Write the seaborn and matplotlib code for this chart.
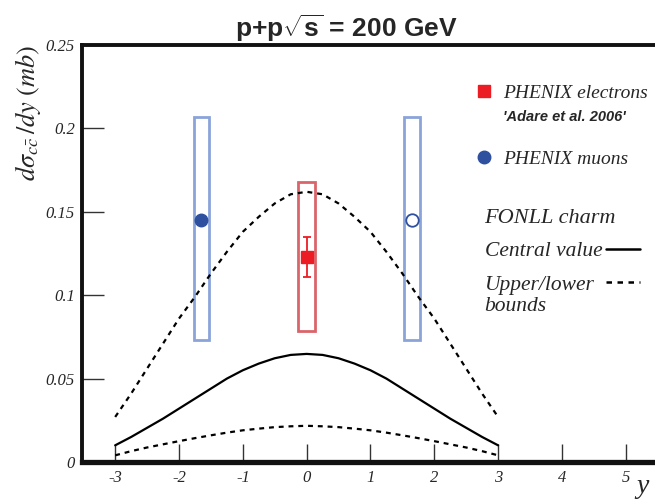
import matplotlib
matplotlib.use('Agg')
import matplotlib.pyplot as plt
from matplotlib.lines import Line2D
import pandas as pd
import seaborn as sns

# FONLL charm curves
rapidity = [-3.0, -2.75, -2.5, -2.25, -2.0, -1.75, -1.5, -1.25, -1.0, -0.75, -0.5, -0.25, 0.0,
            0.25, 0.5, 0.75, 1.0, 1.25, 1.5, 1.75, 2.0, 2.25, 2.5, 2.75, 3.0]
central = [0.010, 0.015, 0.0205, 0.026, 0.032, 0.038, 0.044, 0.050, 0.055, 0.059, 0.0622, 0.0642, 0.0648,
           0.0642, 0.0622, 0.059, 0.055, 0.050, 0.044, 0.038, 0.032, 0.026, 0.0205, 0.015, 0.010]
upper = [0.027, 0.041, 0.056, 0.071, 0.086, 0.099, 0.113, 0.126, 0.138, 0.147, 0.155, 0.1605, 0.162,
         0.1605, 0.155, 0.147, 0.138, 0.126, 0.113, 0.099, 0.086, 0.071, 0.056, 0.041, 0.027]
lower = [0.0040, 0.0065, 0.0087, 0.0106, 0.0125, 0.0143, 0.016, 0.0176, 0.019, 0.020, 0.0209, 0.0214, 0.0217,
         0.0214, 0.0209, 0.020, 0.019, 0.0176, 0.016, 0.0143, 0.0125, 0.0106, 0.0087, 0.0065, 0.0040]

# PHENIX data points
ele_y = [0.0]
ele_val = [0.123]
ele_stat = [0.012]
ele_sys_lo = [0.0785]
ele_sys_hi = [0.168]

muon_y = [-1.65, 1.65]
muon_val = [0.145, 0.145]
muon_sys_lo = [0.073, 0.073]
muon_sys_hi = [0.207, 0.207]

x_ticks = [-3, -2, -1, 0, 1, 2, 3, 4, 5]
y_ticks = [0, 0.05, 0.1, 0.15, 0.2, 0.25]
y_tick_labels = ['0', '0.05', '0.1', '0.15', '0.2', '0.25']

sns.set_style('ticks')
plt.rcParams['font.family'] = ['Liberation Serif', 'DejaVu Serif']
plt.rcParams['mathtext.fontset'] = 'custom'
plt.rcParams['mathtext.rm'] = 'Liberation Sans:bold'
plt.rcParams['mathtext.bf'] = 'Liberation Sans:bold'
plt.rcParams['mathtext.it'] = 'Liberation Sans:bold'

red = '#ec1c24'
red_box = '#d9656b'
blue = '#2f4f9f'
blue_box = '#8aa4da'
dash = (0, (2.2, 2.2))

df = pd.DataFrame({'y': rapidity, 'central': central, 'upper': upper, 'lower': lower})

fig = plt.figure(figsize=(6.55, 5.04), dpi=100)
ax = fig.add_axes([82 / 655, 42 / 504, 575 / 655, 417 / 504])

# systematic boxes
ax.bar(ele_y, [h - l for h, l in zip(ele_sys_hi, ele_sys_lo)], bottom=ele_sys_lo, width=0.26,
       fill=False, edgecolor=red_box, linewidth=2, zorder=2)
ax.bar(muon_y, [h - l for h, l in zip(muon_sys_hi, muon_sys_lo)], bottom=muon_sys_lo, width=0.24,
       fill=False, edgecolor=blue_box, linewidth=2, zorder=2)

# FONLL curves
sns.lineplot(data=df, x='y', y='upper', color='black', linestyle=dash, linewidth=1.6, ax=ax, zorder=3)
sns.lineplot(data=df, x='y', y='central', color='black', linewidth=1.6, ax=ax, zorder=3)
sns.lineplot(data=df, x='y', y='lower', color='black', linestyle=dash, linewidth=1.6, ax=ax, zorder=3)

# data points
ax.errorbar(ele_y, ele_val, yerr=ele_stat, fmt='s', color=red, markersize=8.5, capsize=3,
            elinewidth=1.3, capthick=1.3, zorder=4)
ax.plot(muon_y[:1], muon_val[:1], 'o', color=blue, markersize=9, zorder=4)
ax.plot(muon_y[1:], muon_val[1:], 'o', markerfacecolor='white', markeredgecolor=blue,
        markeredgewidth=1.3, markersize=9, zorder=4)

ax.set_xlim(-3.52, 5.49)
ax.set_ylim(0, 0.25)
ax.set_xticks(x_ticks)
ax.set_xticklabels([str(t) for t in x_ticks], fontstyle='italic', fontsize=12)
ax.set_yticks(y_ticks)
ax.set_yticklabels(y_tick_labels, fontstyle='italic', fontsize=12)
ax.tick_params(axis='y', direction='in', length=16, width=1, color='#333333', pad=5)
ax.tick_params(axis='x', direction='in', length=13, width=1, color='#333333', pad=6)

for side in ['left', 'top']:
    ax.spines[side].set_linewidth(2.8)
ax.spines['bottom'].set_linewidth(3.8)
ax.spines['right'].set_visible(False)
for s in ax.spines.values():
    s.set_color('#111111')

ax.set_xlabel('y', fontstyle='italic', fontsize=20)
ax.xaxis.set_label_coords(0.974, -0.028)
ax.set_ylabel(r'$d\sigma_{c\bar{c}}\,/dy\ (mb)$', fontsize=19, math_fontfamily='stix')
ax.yaxis.set_label_coords(-0.067, 0.837)

ax.set_title(r'p+p$\sqrt{s}$ = 200 GeV', fontfamily='Liberation Sans', fontweight='bold',
             fontsize=19, math_fontfamily='custom', x=0.459, pad=6)

# PHENIX legend
h_ele = Line2D([], [], marker='s', linestyle='none', color=red, markersize=8.5)
h_mu = Line2D([], [], marker='o', linestyle='none', color=blue, markersize=9)
leg1 = ax.legend([h_ele, h_mu], ['PHENIX electrons', 'PHENIX muons'], loc='upper left',
                 bbox_to_anchor=(0.688, 0.906), frameon=False, borderpad=0, borderaxespad=0,
                 handlelength=0.7, handletextpad=0.6, labelspacing=2.5,
                 prop={'style': 'italic', 'size': 14})
ax.add_artist(leg1)
ax.text(0.733, 0.827, "'Adare et al. 2006'", transform=ax.transAxes, fontfamily='Liberation Sans',
        fontweight='bold', fontstyle='italic', fontsize=10.5, va='center')

# FONLL legend
ax.text(0.700, 0.585, 'FONLL charm', transform=ax.transAxes, fontstyle='italic', fontsize=16,
        va='center')
h_c = Line2D([], [], color='black', linewidth=1.8)
h_b = Line2D([], [], color='black', linewidth=1.8, linestyle=dash)
leg2 = ax.legend([h_c, h_b], ['Central value', 'Upper/lower'], loc='upper left',
                 bbox_to_anchor=(0.700, 0.529), frameon=False, borderpad=0, borderaxespad=0,
                 markerfirst=False, handlelength=1.55, handletextpad=0.25, labelspacing=0.61,
                 prop={'style': 'italic', 'size': 15.5})
# keep labels left-aligned and the line samples in one column
for col in leg2._legend_handle_box.get_children():
    col.align = 'left'
    for row in col.get_children():
        row.mode = 'expand'
        row.width = 155
ax.text(0.700, 0.374, 'bounds', transform=ax.transAxes, fontstyle='italic', fontsize=15.5,
        va='center')

fig.savefig('out.png', dpi=100)
